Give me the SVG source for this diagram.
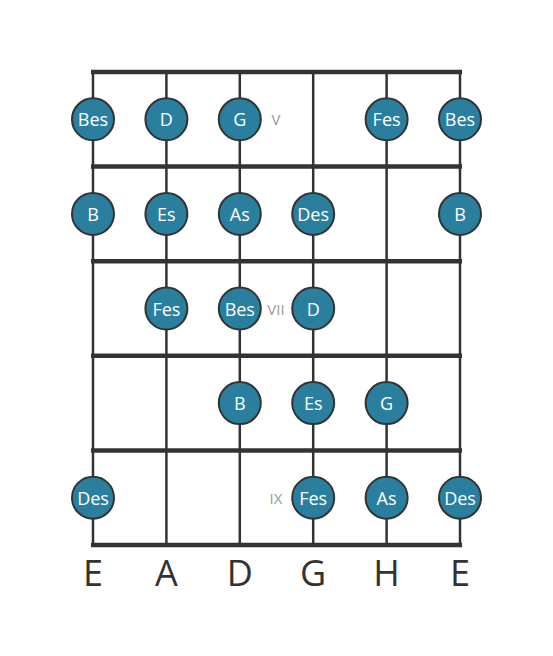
<svg xmlns="http://www.w3.org/2000/svg" width="553" height="656" viewBox="0 0 553 656">
<style>
.str{stroke:#333;stroke-width:2.5;fill:none}
.fret{stroke:#333;stroke-width:4.5;fill:none}
.n circle{fill:#2a7f9e;stroke:#333;stroke-width:2}
.n text{fill:#fff;font-family:"Open Sans",sans-serif;font-size:18px;text-anchor:middle;dominant-baseline:central}
.pos{fill:#999;font-family:"Open Sans",sans-serif;font-size:15px;text-anchor:middle;dominant-baseline:central}
.lbl{fill:#333;font-family:"Open Sans",sans-serif;font-size:36px;text-anchor:middle;dominant-baseline:central}
</style>
<rect width="553" height="656" fill="#fff"/>
<g id="connectors">
<line class="str" x1="93" y1="72" x2="93" y2="545"/>
<line class="str" x1="166.4" y1="72" x2="166.4" y2="545"/>
<line class="str" x1="239.8" y1="72" x2="239.8" y2="545"/>
<line class="str" x1="313.2" y1="72" x2="313.2" y2="545"/>
<line class="str" x1="386.6" y1="72" x2="386.6" y2="545"/>
<line class="str" x1="460" y1="72" x2="460" y2="545"/>
<line class="fret" x1="91" y1="72" x2="462" y2="72"/>
<line class="fret" x1="91" y1="166.6" x2="462" y2="166.6"/>
<line class="fret" x1="91" y1="261.2" x2="462" y2="261.2"/>
<line class="fret" x1="91" y1="355.8" x2="462" y2="355.8"/>
<line class="fret" x1="91" y1="450.4" x2="462" y2="450.4"/>
<line class="fret" x1="91" y1="545" x2="462" y2="545"/>
</g>
<g id="row1">
<g class="n" id="n1"><circle cx="93" cy="119.3" r="21"/><text x="93" y="119.3">Bes</text></g>
<g class="n" id="n2"><circle cx="166.4" cy="119.3" r="21"/><text x="166.4" y="119.3">D</text></g>
<g class="n" id="n3"><circle cx="239.8" cy="119.3" r="21"/><text x="239.8" y="119.3">G</text></g>
<text class="pos" x="276" y="119.3">V</text>
<g class="n" id="n4"><circle cx="386.6" cy="119.3" r="21"/><text x="386.6" y="119.3">Fes</text></g>
<g class="n" id="n5"><circle cx="460" cy="119.3" r="21"/><text x="460" y="119.3">Bes</text></g>
</g>
<g id="row2">
<g class="n" id="n6"><circle cx="93" cy="213.9" r="21"/><text x="93" y="213.9">B</text></g>
<g class="n" id="n7"><circle cx="166.4" cy="213.9" r="21"/><text x="166.4" y="213.9">Es</text></g>
<g class="n" id="n8"><circle cx="239.8" cy="213.9" r="21"/><text x="239.8" y="213.9">As</text></g>
<g class="n" id="n9"><circle cx="313.2" cy="213.9" r="21"/><text x="313.2" y="213.9">Des</text></g>
<g class="n" id="n10"><circle cx="460" cy="213.9" r="21"/><text x="460" y="213.9">B</text></g>
</g>
<g id="row3">
<g class="n" id="n11"><circle cx="166.4" cy="308.5" r="21"/><text x="166.4" y="308.5">Fes</text></g>
<g class="n" id="n12"><circle cx="239.8" cy="308.5" r="21"/><text x="239.8" y="308.5">Bes</text></g>
<text class="pos" x="276" y="308.5">VII</text>
<g class="n" id="n13"><circle cx="313.2" cy="308.5" r="21"/><text x="313.2" y="308.5">D</text></g>
</g>
<g id="row4">
<g class="n" id="n14"><circle cx="239.8" cy="403.1" r="21"/><text x="239.8" y="403.1">B</text></g>
<g class="n" id="n15"><circle cx="313.2" cy="403.1" r="21"/><text x="313.2" y="403.1">Es</text></g>
<g class="n" id="n16"><circle cx="386.6" cy="403.1" r="21"/><text x="386.6" y="403.1">G</text></g>
</g>
<g id="row5">
<g class="n" id="n17"><circle cx="93" cy="497.7" r="21"/><text x="93" y="497.7">Des</text></g>
<text class="pos" x="276" y="497.7">IX</text>
<g class="n" id="n18"><circle cx="313.2" cy="497.7" r="21"/><text x="313.2" y="497.7">Fes</text></g>
<g class="n" id="n19"><circle cx="386.6" cy="497.7" r="21"/><text x="386.6" y="497.7">As</text></g>
<g class="n" id="n20"><circle cx="460" cy="497.7" r="21"/><text x="460" y="497.7">Des</text></g>
</g>
<g id="labels">
<text class="lbl" x="93" y="572">E</text>
<text class="lbl" x="166.4" y="572">A</text>
<text class="lbl" x="239.8" y="572">D</text>
<text class="lbl" x="313.2" y="572">G</text>
<text class="lbl" x="386.6" y="572">H</text>
<text class="lbl" x="460" y="572">E</text>
</g>
</svg>
